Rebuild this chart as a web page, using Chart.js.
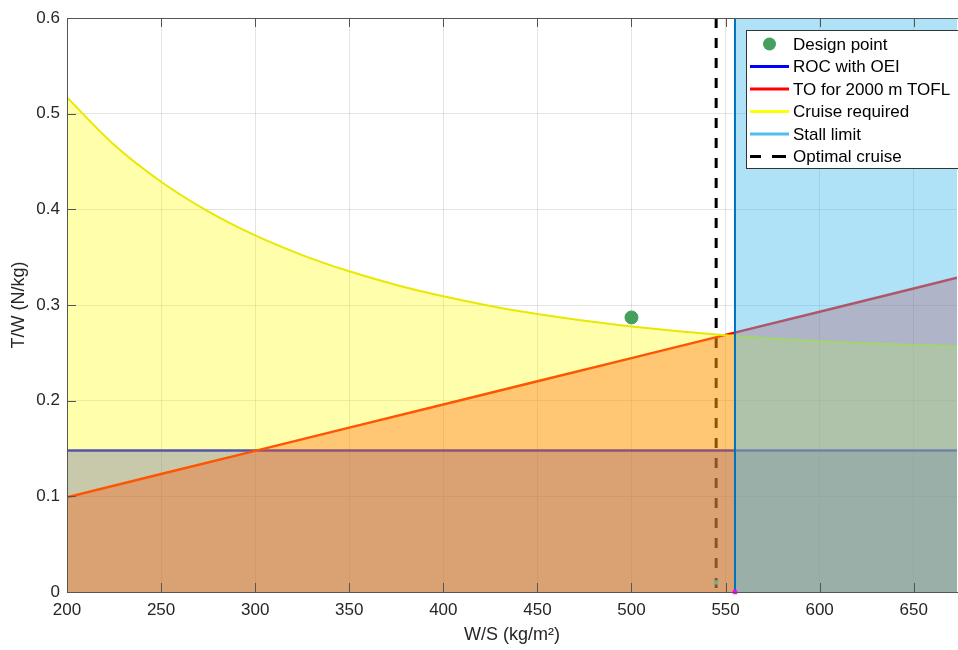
<!DOCTYPE html>
<html>
<head>
<meta charset="utf-8">
<script src="https://cdn.jsdelivr.net/npm/chart.js@4.4.1/dist/chart.umd.min.js"></script>
<style>
  html, body { margin: 0; padding: 0; background: #fff; }
  #wrap { width: 958px; height: 650px; }
</style>
</head>
<body>
<div id="wrap"><canvas id="myChart"></canvas></div>
<script>
// wing loading (kg/m^2) samples
var cruiseWS = [200, 225, 250, 275, 300, 325, 350, 375, 400, 425, 450, 475, 500, 525, 550, 575, 600, 625, 650, 673];
var cruiseTW = [0.517, 0.4675, 0.4288, 0.3978, 0.3727, 0.3522, 0.3352, 0.3210, 0.3091, 0.2990, 0.2906, 0.2835, 0.2776, 0.2726, 0.2685, 0.2650, 0.2621, 0.2600, 0.2582, 0.2570];

var toWS = [200, 250, 300, 350, 400, 450, 500, 550, 600, 650, 673];
var toTW = [0.099, 0.1233, 0.1475, 0.1718, 0.196, 0.2203, 0.2445, 0.2688, 0.293, 0.3173, 0.3284];

var rocWS = [200, 673];
var rocTW = [0.148, 0.148];

var stallWS = 555;
var optimalWS = 545;
var designWS = 500, designTW = 0.287;

var xRange = [200, 673];
var yRange = [0, 0.6];

var legendLabels = ['Design point', 'ROC with OEI', 'TO for 2000 m TOFL', 'Cruise required', 'Stall limit', 'Optimal cruise'];
var legendColors = ['#44a05c', '#0000ff', '#ff0000', '#ffff00', '#4dbeee', '#000000'];

function pts(xs, ys) {
    return xs.map(function (x, i) { return {x: x, y: ys[i]}; });
}

var FONT = '"Liberation Sans", Arial, sans-serif';
var TEXT = '#262626';

// axes box + inward tick marks, like the original plot
var boxPlugin = {
    id: 'box',
    afterDraw: function (chart) {
        var ctx = chart.ctx, a = chart.chartArea;
        var xs = chart.scales.x, ys = chart.scales.y;
        ctx.save();
        ctx.strokeStyle = '#555';
        ctx.lineWidth = 1;
        ctx.beginPath();
        xs.ticks.forEach(function (t) {
            var px = Math.round(xs.getPixelForValue(t.value)) + 0.5;
            ctx.moveTo(px, a.bottom); ctx.lineTo(px, a.bottom - 9);
            ctx.moveTo(px, a.top); ctx.lineTo(px, a.top + 9);
        });
        ys.ticks.forEach(function (t) {
            var py = Math.round(ys.getPixelForValue(t.value)) + 0.5;
            ctx.moveTo(a.left, py); ctx.lineTo(a.left + 9, py);
        });
        ctx.stroke();
        ctx.strokeRect(Math.round(a.left) + 0.5, Math.round(a.top) + 0.5, a.right - a.left + 2, Math.round(a.bottom - a.top));
        ctx.restore();
    }
};

var legendPlugin = {
    id: 'boxLegend',
    afterDraw: function (chart) {
        var ctx = chart.ctx;
        var left = 746, top = 30, w = 220, h = 138, row = 22.5;
        ctx.save();
        ctx.fillStyle = '#fff';
        ctx.fillRect(left, top, w, h);
        ctx.strokeStyle = '#333';
        ctx.lineWidth = 1;
        ctx.strokeRect(left + 0.5, top + 0.5, w, h);
        ctx.font = '17px ' + FONT;
        ctx.textBaseline = 'middle';
        legendLabels.forEach(function (lab, i) {
            var cy = top + 14 + i * row;
            var x0 = 750, x1 = 789;
            ctx.strokeStyle = legendColors[i];
            ctx.fillStyle = legendColors[i];
            ctx.lineWidth = 3;
            ctx.beginPath();
            if (i === 0) {
                ctx.arc((x0 + x1) / 2, cy, 6.5, 0, Math.PI * 2);
                ctx.fill();
            } else if (i === 5) {
                ctx.moveTo(x0, cy); ctx.lineTo(x0 + 11, cy);
                ctx.moveTo(x0 + 22, cy); ctx.lineTo(x0 + 36, cy);
                ctx.stroke();
            } else {
                ctx.moveTo(x0, cy); ctx.lineTo(x1, cy);
                ctx.stroke();
            }
            ctx.fillStyle = '#000';
            ctx.fillText(lab, 793, cy + 1);
        });
        ctx.restore();
    }
};

var ctx = document.getElementById('myChart').getContext('2d');

var myChart = new Chart(ctx, {
    type: 'line',
    data: {
        datasets: [{
            label: legendLabels[0],
            data: [{x: designWS, y: designTW}],
            showLine: false,
            pointRadius: 6.5,
            backgroundColor: '#44a05c',
            borderColor: '#44a05c',
            order: 0
        }, {
            label: 'markers',
            data: [{x: stallWS, y: 0}],
            showLine: false,
            pointStyle: 'rect',
            pointRadius: 2.5,
            backgroundColor: '#ff00ff',
            borderColor: '#ff00ff',
            clip: false,
            order: 1
        }, {
            label: 'markers2',
            data: [{x: optimalWS, y: 0.01}],
            showLine: false,
            pointStyle: 'crossRot',
            pointRadius: 3,
            borderWidth: 2,
            borderColor: '#7fae8c',
            order: 1
        }, {
            label: legendLabels[4],
            data: pts([stallWS, stallWS], yRange),
            borderColor: '#0072bd',
            borderWidth: 2,
            pointRadius: 0,
            fill: false,
            order: 2
        }, {
            label: 'stall area',
            data: pts([stallWS, xRange[1]], [yRange[1], yRange[1]]),
            borderWidth: 0,
            borderColor: 'rgba(0,0,0,0)',
            pointRadius: 0,
            fill: 'origin',
            backgroundColor: 'rgba(77,190,238,0.45)',
            order: 2
        }, {
            label: legendLabels[3],
            data: pts(cruiseWS, cruiseTW),
            borderColor: '#e8e800',
            borderWidth: 2,
            pointRadius: 0,
            cubicInterpolationMode: 'monotone',
            fill: 'origin',
            backgroundColor: 'rgba(255,255,0,0.33)',
            order: 3
        }, {
            label: legendLabels[2],
            data: pts(toWS, toTW),
            borderColor: '#ff0000',
            borderWidth: 2.5,
            pointRadius: 0,
            fill: 'origin',
            backgroundColor: 'rgba(255,0,0,0.33)',
            order: 4
        }, {
            label: legendLabels[1],
            data: pts(rocWS, rocTW),
            borderColor: '#0000ff',
            borderWidth: 2.5,
            pointRadius: 0,
            fill: 'origin',
            backgroundColor: 'rgba(0,0,255,0.32)',
            order: 5
        }, {
            label: legendLabels[5],
            data: pts([optimalWS, optimalWS], [yRange[1], yRange[0]]),
            borderColor: '#000000',
            borderWidth: 3,
            borderDash: [10, 10],
            pointRadius: 0,
            fill: false,
            order: 6
        }]
    },
    options: {
        responsive: true,
        maintainAspectRatio: false,
        animation: false,
        layout: { autoPadding: false, padding: { top: 18, right: 1, left: 0, bottom: 0 } },
        plugins: {
            legend: { display: false },
            tooltip: { enabled: false }
        },
        scales: {
            x: {
                type: 'linear',
                min: xRange[0],
                max: xRange[1],
                z: 1,
                border: { display: false },
                grid: { color: 'rgba(38,38,38,0.13)', drawTicks: false },
                ticks: {
                    stepSize: 50,
                    includeBounds: false,
                    padding: 8,
                    color: TEXT,
                    font: { family: FONT, size: 17 },
                    callback: function (v) { return v; }
                },
                title: {
                    display: true,
                    text: 'W/S (kg/m²)',
                    color: TEXT,
                    font: { family: FONT, size: 18 },
                    padding: { bottom: 4, top: 0 }
                },
                afterFit: function (s) {
                    s.height = 58;
                    s.paddingLeft = 0;
                    s.paddingRight = 0;
                }
            },
            y: {
                min: yRange[0],
                max: yRange[1],
                z: 1,
                border: { display: false },
                grid: { color: 'rgba(38,38,38,0.13)', drawTicks: false },
                ticks: {
                    stepSize: 0.1,
                    padding: 7,
                    color: TEXT,
                    font: { family: FONT, size: 17 },
                    callback: function (v) { return +v.toFixed(1); }
                },
                title: {
                    display: true,
                    text: 'T/W (N/kg)',
                    color: TEXT,
                    font: { family: FONT, size: 18 },
                    padding: { top: 8, bottom: 0 }
                },
                afterFit: function (s) {
                    s.width = 67;
                    s.paddingTop = 0;
                    s.paddingBottom = 0;
                }
            }
        }
    },
    plugins: [boxPlugin, legendPlugin]
});
</script>
</body>
</html>
